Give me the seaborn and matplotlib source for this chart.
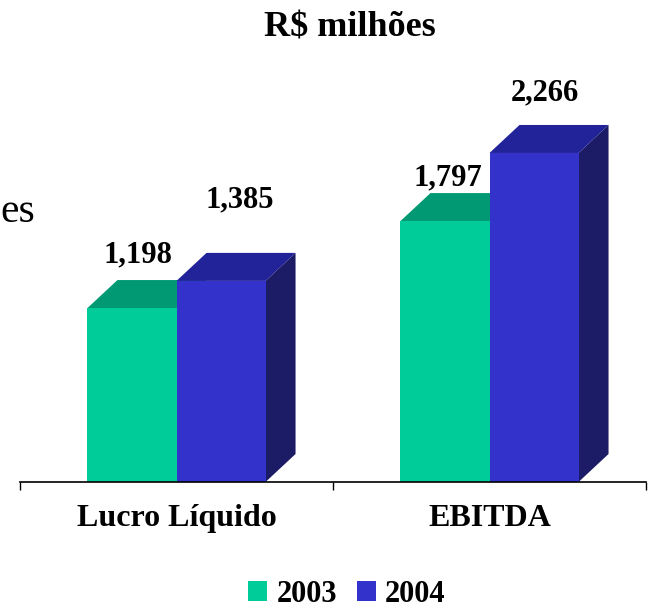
import matplotlib
matplotlib.use('Agg')
import matplotlib.pyplot as plt
from matplotlib.patches import Polygon, Patch
import seaborn as sns
import pandas as pd

# data (R$ milhoes)
categories = ['Lucro Líquido', 'EBITDA']
years = ['2003', '2004']
values_2003 = [1198, 1797]
values_2004 = [1385, 2266]
value_labels = ['1,198', '1,797', '1,385', '2,266']  # order of seaborn patches: hue-major

# style
front_colors = ['#00CC99', '#3333CC']
top_colors = ['#009973', '#222299']
side_colors = ['#1A7A5C', '#1C1C66']
# label nudges in pixels (x, y) from front centre / back top edge, same order as value_labels
label_nudge = [(6, 18), (3, 8), (19, 45), (11, 25)]

df = pd.DataFrame({
    'cat': categories * 2,
    'year': [years[0]] * 2 + [years[1]] * 2,
    'val': values_2003 + values_2004,
})

sns.set_style('white')
plt.rcParams['font.family'] = ['Liberation Serif', 'DejaVu Serif']
plt.rcParams['text.color'] = 'black'
plt.rcParams['xtick.color'] = 'black'

W, H = 648, 609
fig = plt.figure(figsize=(W / 100, H / 100), dpi=100)
base_px, top_px, left_px, right_px = 482, 60, 20, 646
ax = fig.add_axes([left_px / W, (H - base_px) / H, (right_px - left_px) / W, (base_px - top_px) / H])

sns.barplot(data=df, x='cat', y='val', hue='year', palette=front_colors, saturation=1,
            width=0.569, gap=0, legend=False, ax=ax, zorder=2, linewidth=0, edgecolor='none')

px_per_unit = 0.1452
ax.set_ylim(0, (base_px - top_px) / px_per_unit)
ax.set_xlim(-0.5, 1.5)

# 3D depth in data units
dx = 30 / ((right_px - left_px) / 2.0)
dy = 28 / px_per_unit

bars = [p for p in ax.patches]
for i, p in enumerate(bars):
    x0, w, h = p.get_x(), p.get_width(), p.get_height()
    k = 0 if i < 2 else 1
    top = Polygon([(x0, h), (x0 + dx, h + dy), (x0 + w + dx, h + dy), (x0 + w, h)],
                  closed=True, facecolor=top_colors[k], edgecolor='none', zorder=1)
    side = Polygon([(x0 + w, 0), (x0 + w + dx, dy), (x0 + w + dx, h + dy), (x0 + w, h)],
                   closed=True, facecolor=side_colors[k], edgecolor='none', zorder=1)
    ax.add_patch(side)
    ax.add_patch(top)
    nx, ny = label_nudge[i]
    ax.annotate(value_labels[i], xy=(x0 + w / 2, h + dy), xytext=(nx, ny),
                textcoords='offset pixels', ha='center', va='baseline',
                fontsize=22, fontweight='bold', zorder=3)

# axis styling
for s in ['top', 'right', 'left']:
    ax.spines[s].set_visible(False)
ax.spines['bottom'].set_color('black')
ax.spines['bottom'].set_linewidth(1.2)
ax.set_yticks([])
ax.set_xticks([-0.5, 0.5, 1.5])
ax.set_xticklabels([])
ax.tick_params(axis='x', which='major', direction='out', length=6, width=1, color='black', bottom=True)
ax.set_xticks([0, 1], minor=True)
ax.set_xticklabels(categories, minor=True, fontsize=23, fontweight='bold')
ax.tick_params(axis='x', which='minor', length=0, pad=16)
ax.set_xlabel('')
ax.set_ylabel('')

fig.text(350 / W, 1 - 28 / H, 'R$ milhões', ha='center', va='center', fontsize=26, fontweight='bold')
fig.text(0, 1 - 222 / H, 'es', ha='left', va='baseline', fontsize=30)

handles = [Patch(facecolor=front_colors[0], edgecolor='none'), Patch(facecolor=front_colors[1], edgecolor='none')]
fig.legend(handles, years, loc='center', bbox_to_anchor=(347 / W, 1 - 594 / H), ncol=2, frameon=False,
           handlelength=0.62, handleheight=0.62, handletextpad=0.3, columnspacing=0.65,
           prop={'family': 'Liberation Serif', 'weight': 'bold', 'size': 22})

fig.savefig('out.png', dpi=100)
